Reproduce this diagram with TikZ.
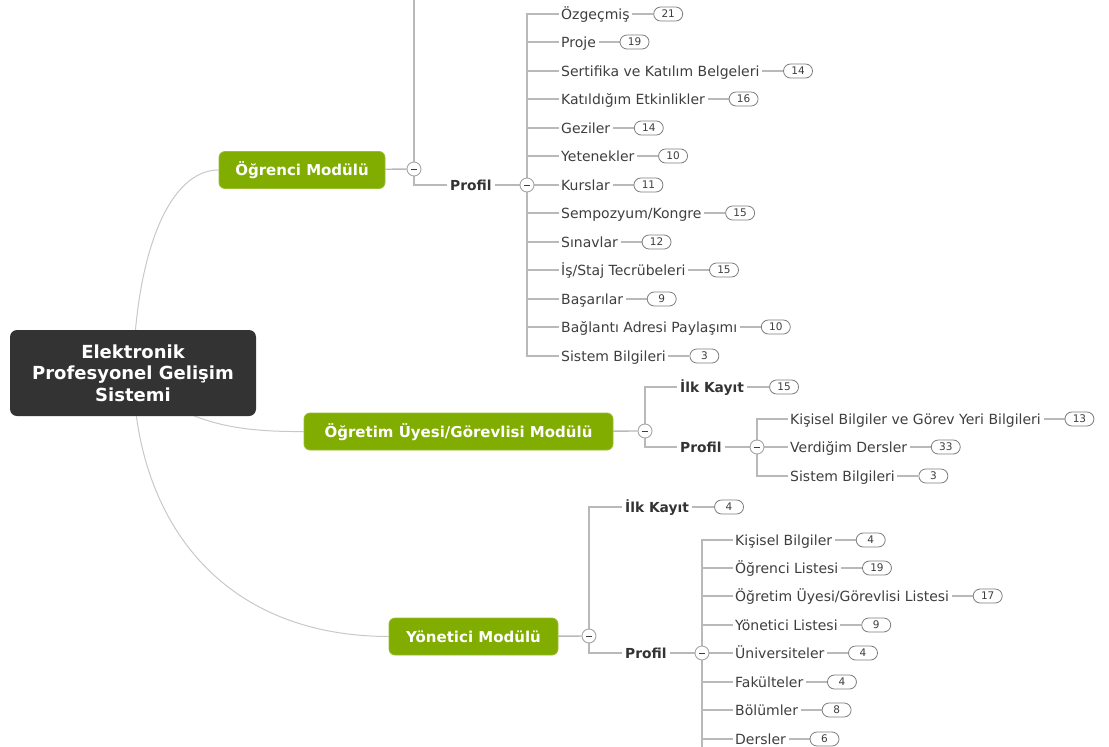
\documentclass[tikz,border=0pt]{standalone}
\usepackage{fontspec}
\setmainfont{DejaVu Sans}
\usetikzlibrary{positioning,backgrounds}

\definecolor{rootfill}{RGB}{51,51,51}
\definecolor{modgreen}{RGB}{128,173,0}
\definecolor{branchgray}{RGB}{185,185,185}
\definecolor{curvegray}{RGB}{200,200,200}
\definecolor{pillgray}{RGB}{125,125,125}
\definecolor{txtgray}{RGB}{62,62,62}
\definecolor{labelgray}{RGB}{51,51,51}

\tikzset{
  rootbox/.style={fill=rootfill, rounded corners=7pt, minimum width=246pt, minimum height=86pt,
    text=white, font=\fontsize{18}{21.5}\selectfont\bfseries, align=center, inner sep=0pt},
  modbox/.style={fill=modgreen, draw=modgreen!80!white, line width=0.8pt, rounded corners=6pt,
    minimum height=37pt, text=white, font=\fontsize{15}{18}\selectfont\bfseries,
    inner sep=0pt, text height=11pt, text depth=0pt},
  sublabel/.style={anchor=west, inner xsep=3pt, inner ysep=0pt, text=labelgray,
    font=\fontsize{13.8}{16}\selectfont\bfseries, text height=10pt, text depth=0pt},
  leaf/.style={anchor=west, inner xsep=2.5pt, inner ysep=0pt, text=txtgray,
    font=\fontsize{14}{16}\selectfont, text height=10.2pt, text depth=0pt},
  pill/.style={draw=pillgray, fill=white, rounded corners=7pt, minimum width=29pt,
    minimum height=14pt, inner sep=0pt, text=txtgray, font=\fontsize{10.5}{11}\selectfont,
    line width=0.8pt, text height=7.6pt, text depth=0pt},
  toggle/.style={circle, draw=gray!70, fill=white, minimum size=14pt, inner sep=0pt,
    line width=0.9pt, path picture={\draw[txtgray, line width=1pt]
      ([xshift=-3.2pt]path picture bounding box.center) --
      ([xshift=3.2pt]path picture bounding box.center);}},
  branch/.style={draw=branchgray, line width=1.4pt},
  rootlink/.style={draw=curvegray, line width=1pt},
}

% leaf text followed by its counter badge
\newcommand\leafwithcount[5]{%
  \node[leaf] (#1) at (#2,#3) {#4};
  \node[pill, right=21pt of #1] (#1n) {#5};
}
% bold sub-branch label followed by its counter badge
\newcommand\labelwithcount[5]{%
  \node[sublabel] (#1) at (#2,#3) {#4};
  \node[pill, right=22pt of #1] (#1n) {#5};
}

\begin{document}
\begin{tikzpicture}[x=1pt, y=-1pt]
\useasboundingbox (0,0) rectangle (1109,747);

% central topic
\node[rootbox] (root) at (133,373) {Elektronik\\Profesyonel Gelişim\\Sistemi};

% modules
\node[modbox, minimum width=166pt] (ogr) at (302,170) {Öğrenci Modülü};
\node[modbox, minimum width=309pt] (ogu) at (458.5,431.5) {Öğretim Üyesi/Görevlisi Modülü};
\node[modbox, minimum width=169pt] (yon) at (473.5,636.5) {Yönetici Modülü};

% ---- Öğrenci Modülü ----
\node[toggle] (ogrT) at (414,169) {};
\coordinate (ogrUp) at (414,-2);
\node[sublabel] (ogrP) at (447,185) {Profil};
\node[toggle] (ogrPT) at (527,185) {};
\leafwithcount{ogr1}{558.5}{14}{Özgeçmiş}{21}
\leafwithcount{ogr2}{558.5}{42}{Proje}{19}
\leafwithcount{ogr3}{558.5}{71}{Sertifika ve Katılım Belgeleri}{14}
\leafwithcount{ogr4}{558.5}{99}{Katıldığım Etkinlikler}{16}
\leafwithcount{ogr5}{558.5}{128}{Geziler}{14}
\leafwithcount{ogr6}{558.5}{156}{Yetenekler}{10}
\leafwithcount{ogr7}{558.5}{185}{Kurslar}{11}
\leafwithcount{ogr8}{558.5}{213}{Sempozyum/Kongre}{15}
\leafwithcount{ogr9}{558.5}{242}{Sınavlar}{12}
\leafwithcount{ogr10}{558.5}{270}{İş/Staj Tecrübeleri}{15}
\leafwithcount{ogr11}{558.5}{299}{Başarılar}{9}
\leafwithcount{ogr12}{558.5}{327}{Bağlantı Adresi Paylaşımı}{10}
\leafwithcount{ogr13}{558.5}{356}{Sistem Bilgileri}{3}

% ---- Öğretim Üyesi/Görevlisi Modülü ----
\node[toggle] (oguT) at (645,431) {};
\labelwithcount{oguI}{677}{387}{İlk Kayıt}{15}
\node[sublabel] (oguP) at (677,447) {Profil};
\node[toggle] (oguPT) at (757,447) {};
\leafwithcount{ogu1}{787.5}{419}{Kişisel Bilgiler ve Görev Yeri Bilgileri}{13}
\leafwithcount{ogu2}{787.5}{447}{Verdiğim Dersler}{33}
\leafwithcount{ogu3}{787.5}{476}{Sistem Bilgileri}{3}

% ---- Yönetici Modülü ----
\node[toggle] (yonT) at (589,636) {};
\labelwithcount{yonI}{622}{507}{İlk Kayıt}{4}
\node[sublabel] (yonP) at (622,653) {Profil};
\node[toggle] (yonPT) at (702,653) {};
\coordinate (yonDown) at (702,750);
\leafwithcount{yon1}{732.5}{540}{Kişisel Bilgiler}{4}
\leafwithcount{yon2}{732.5}{568}{Öğrenci Listesi}{19}
\leafwithcount{yon3}{732.5}{596}{Öğretim Üyesi/Görevlisi Listesi}{17}
\leafwithcount{yon4}{732.5}{625}{Yönetici Listesi}{9}
\leafwithcount{yon5}{732.5}{653}{Üniversiteler}{4}
\leafwithcount{yon6}{732.5}{682}{Fakülteler}{4}
\leafwithcount{yon7}{732.5}{710}{Bölümler}{8}
\leafwithcount{yon8}{732.5}{739}{Dersler}{6}

\begin{scope}[on background layer]
  % links from the central topic
  \draw[rootlink] (root.center) .. controls (136,250) and (170,170) .. (ogr.west);
  \draw[rootlink] (root.center) .. controls (180,425) and (240,432) .. (ogu.west);
  \draw[rootlink] (root.center) .. controls (136,520) and (220,636) .. (yon.west);

  % Öğrenci branches
  \draw[branch] (ogr) -- (ogrT);
  \draw[branch] (ogrT) -- (ogrUp);
  \draw[branch] (ogrT) |- (ogrP);
  \draw[branch] (ogrP) -- (ogrPT);
  \foreach \n in {ogr1,ogr2,ogr3,ogr4,ogr5,ogr6,ogr8,ogr9,ogr10,ogr11,ogr12,ogr13}
    \draw[branch] (ogrPT) |- (\n);
  \draw[branch] (ogrPT) -- (ogr7);

  % Öğretim Üyesi branches
  \draw[branch] (ogu) -- (oguT);
  \draw[branch] (oguT) |- (oguI);
  \draw[branch] (oguT) |- (oguP);
  \draw[branch] (oguP) -- (oguPT);
  \draw[branch] (oguPT) |- (ogu1);
  \draw[branch] (oguPT) -- (ogu2);
  \draw[branch] (oguPT) |- (ogu3);

  % Yönetici branches
  \draw[branch] (yon) -- (yonT);
  \draw[branch] (yonT) |- (yonI);
  \draw[branch] (yonT) |- (yonP);
  \draw[branch] (yonP) -- (yonPT);
  \draw[branch] (yonPT) -- (yonDown);
  \foreach \n in {yon1,yon2,yon3,yon4,yon6,yon7,yon8}
    \draw[branch] (yonPT) |- (\n);
  \draw[branch] (yonPT) -- (yon5);

  % text-to-counter links
  \foreach \n in {ogr1,ogr2,ogr3,ogr4,ogr5,ogr6,ogr7,ogr8,ogr9,ogr10,ogr11,ogr12,ogr13,
                  oguI,ogu1,ogu2,ogu3,yonI,yon1,yon2,yon3,yon4,yon5,yon6,yon7,yon8}
    \draw[branch, line width=1.2pt] (\n) -- (\n n);
\end{scope}
\end{tikzpicture}
\end{document}
